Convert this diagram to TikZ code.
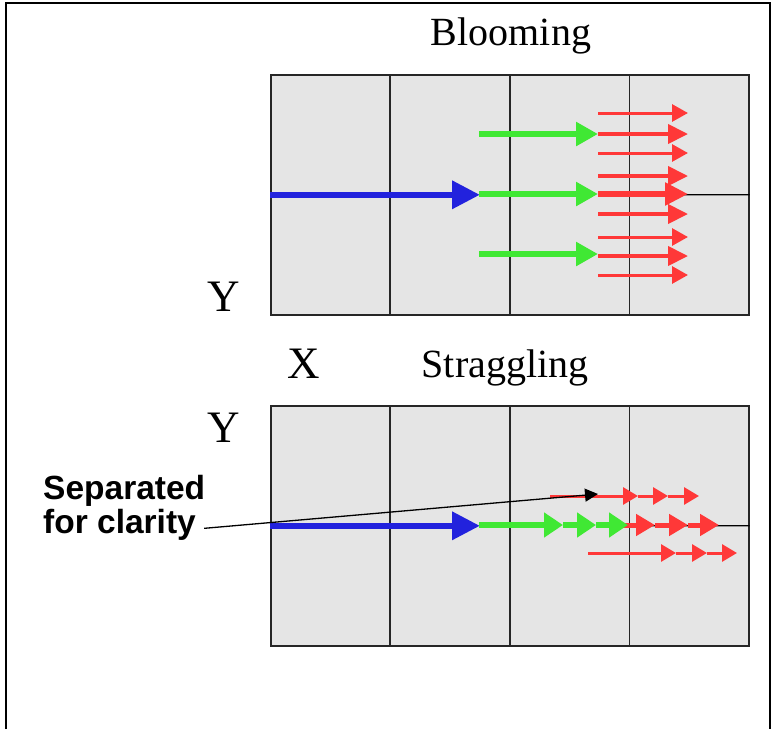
\documentclass[tikz,border=0pt]{standalone}
\usepackage{fontspec}
\setmainfont{Liberation Serif}
\newfontfamily\notefont{Liberation Sans}
\usetikzlibrary{arrows.meta,calc}
\definecolor{cellgray}{RGB}{229,229,229}
\definecolor{beamblue}{RGB}{34,34,221}
\definecolor{beamgreen}{RGB}{64,232,52}
\definecolor{beamred}{RGB}{255,56,56}
\begin{document}
\begin{tikzpicture}[x=1pt,y=-1pt,
  panel/.style={draw=black!85,line width=1.6pt,fill=cellgray,minimum width=478pt,
    minimum height=240pt,inner sep=0pt,anchor=north west},
  gridline/.style={draw=black!85,line width=1.4pt},
  splitline/.style={draw=black,line width=1.2pt},
  bluebeam/.style={beamblue,line width=6.5pt,-{Triangle[length=28pt,width=27pt]}},
  greenbeam/.style={beamgreen,line width=5.5pt,-{Triangle[length=22pt,width=23pt]}},
  greenstep/.style={beamgreen,line width=5.5pt,-{Triangle[length=19pt,width=24pt]}},
  redthin/.style={beamred,line width=3pt,-{Triangle[length=16pt,width=17pt]}},
  redmid/.style={beamred,line width=4pt,-{Triangle[length=20pt,width=19pt]}},
  redthick/.style={beamred,line width=5.5pt,-{Triangle[length=23pt,width=22pt]}},
  redstepthin/.style={beamred,line width=3pt,-{Triangle[length=15pt,width=17pt]}},
  redstepthick/.style={beamred,line width=5pt,-{Triangle[length=19pt,width=21pt]}},
  pointer/.style={black,line width=1.3pt,-{Triangle[length=13pt,width=13pt]}},
  title/.style={font=\fontsize{40}{48}\selectfont,anchor=base,inner sep=0pt},
  axislabel/.style={font=\fontsize{45}{54}\selectfont,anchor=base,inner sep=0pt},
  note/.style={font=\notefont\bfseries\fontsize{33.5}{38}\selectfont,anchor=base west,inner sep=0pt},
]
\useasboundingbox (0,0) rectangle (774,729);

% outer frame, open at the bottom
\draw[line width=2.5pt] (6,729) -- (6,3) -- (770,3) -- (770,729);

% the two panels of four cells each
\node[panel] (P1) at (270,74) {};
\node[panel] (P2) at (270,405) {};
\foreach \p in {P1,P2}{
  \foreach \f in {0.25,0.5,0.75}
    \draw[gridline] ($(\p.north west)!\f!(\p.north east)$) -- ($(\p.south west)!\f!(\p.south east)$);
  \draw[splitline] ($(\p.west)!0.75!(\p.east)$) -- (\p.east);
}

% labels
\node[title] (tblo) at (511,45) {Blooming};
\node[title] (tstr) at (505,377) {Straggling};
\node[axislabel] (y1) at (224,311) {Y};
\node[axislabel] (x1) at (304,378) {X};
\node[axislabel] (y2) at (224,442) {Y};

% blooming: one beam fanning out
\draw[bluebeam] (P1.west) -- ++(210,0);
\foreach \y in {134,194,254}
  \draw[greenbeam] (479,\y) -- (598,\y);
\foreach \y in {113,153,237,275}
  \draw[redthin] (598,\y) -- (688,\y);
\foreach \y in {134,176,214,256}
  \draw[redmid] (598,\y) -- (688,\y);
\draw[redthick] (598,194) -- (688,194);

% straggling: beams stepping along the same line
\draw[bluebeam] (P2.west) -- ++(210,0);
\draw[redstepthin] (550,496) -- (638,496);
\draw[redstepthin] (638,496) -- (668,496);
\draw[redstepthin] (668,496) -- (699,496);
\draw[redstepthick] (600,525) -- (655,525);
\draw[redstepthick] (655,525) -- (688,525);
\draw[redstepthick] (688,525) -- (719,525);
\draw[redstepthin] (588,553) -- (676,553);
\draw[redstepthin] (676,553) -- (707,553);
\draw[redstepthin] (707,553) -- (737,553);
\draw[greenstep] (479,525) -- (563,525);
\draw[greenstep] (563,525) -- (596,525);
\draw[greenstep] (596,525) -- (628,525);

% annotation
\node[note] (n1) at (43,499) {Separated};
\node[note] (n2) at (43,533) {for clarity};
\coordinate (notetip) at (598,494);
\draw[pointer] ([xshift=8pt,yshift=-4pt]n2.east) -- (notetip);
\end{tikzpicture}
\end{document}
